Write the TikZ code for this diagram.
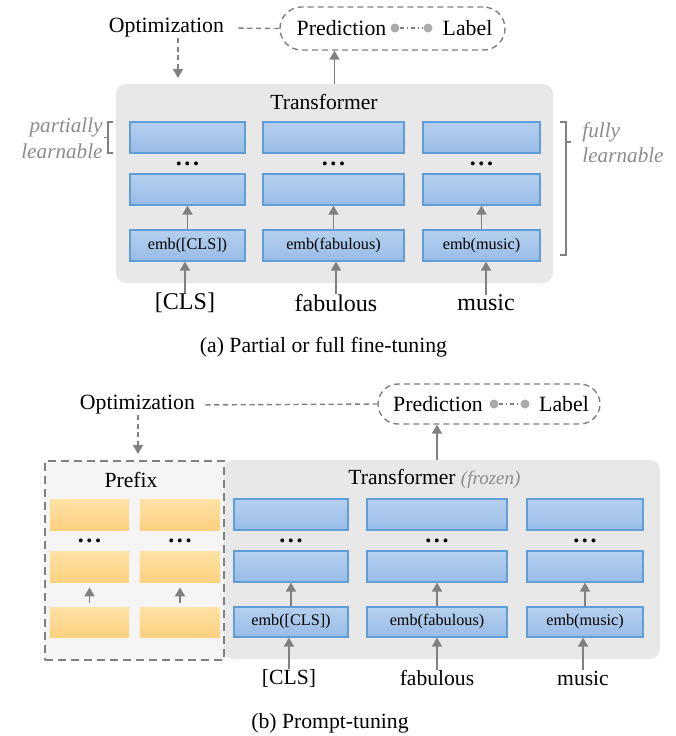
\documentclass[tikz,border=0pt]{standalone}
\usepackage{fontspec}
\setmainfont{Liberation Serif}
\usetikzlibrary{arrows.meta,calc}
\definecolor{gline}{RGB}{128,128,128}
\definecolor{bluefillT}{RGB}{182,208,238}
\definecolor{bluefillB}{RGB}{152,188,231}
\definecolor{blueborder}{RGB}{96,158,215}
\definecolor{orangeT}{RGB}{254,226,165}
\definecolor{orangeB}{RGB}{253,209,128}
\definecolor{tbox}{RGB}{232,232,232}
\definecolor{pbox}{RGB}{245,245,245}
\definecolor{ital}{RGB}{140,140,140}
\definecolor{gdotc}{RGB}{170,170,170}
\newcommand{\mydots}{.\hspace{1.3pt}.\hspace{1.3pt}.}
\tikzset{
 fs/.style={font=\fontsize{#1}{#1}\selectfont},
 blk/.style={draw=blueborder, line width=0.6pt, top color=bluefillT, bottom color=bluefillB, inner sep=0pt, font=\fontsize{8.1}{9}\selectfont},
 org/.style={top color=orangeT, bottom color=orangeB, inner sep=0pt},
 arr/.style={draw=gline, line width=0.8pt, -{Triangle[length=4.5pt,width=5pt]}},
 darr/.style={draw=gline, line width=0.7pt, dash pattern=on 2.5pt off 1.8pt, -{Triangle[length=4.5pt,width=5pt]}},
 dln/.style={draw=gline, line width=0.7pt, dash pattern=on 2.6pt off 1.8pt},
 ovalbox/.style={draw=gline, line width=0.7pt, dash pattern=on 3pt off 2pt, inner sep=0pt},
 gdot/.style={circle, fill=gdotc, inner sep=0pt, minimum size=4.5pt},
 lbl/.style={text=ital, font=\fontsize{10.6}{12}\selectfont\itshape, inner sep=0pt},
 dotsn/.style={font=\fontsize{12}{12}\selectfont\bfseries, inner sep=0pt},
 brk/.style={draw=gline, line width=0.6pt},
}
\begin{document}
\begin{tikzpicture}[x=0.5pt,y=-0.5pt]
\useasboundingbox (0,0) rectangle (676,736);

% ---------------- (a) ----------------
\node[fill=tbox, rounded corners=5pt, minimum width=218.5pt, minimum height=99.5pt, inner sep=0pt] (tf1) at (334.5,183.5) {};
\node[fs=10.8, inner sep=0pt] (tf1l) at (324,102) {Transformer};

\node[ovalbox, rounded corners=10.75pt, minimum width=112.5pt, minimum height=21.5pt] (ov1) at (392.5,28.5) {};
\node[fs=10.9, inner sep=0pt] (pr1) at (341.5,28) {Prediction};
\node[fs=10.9, inner sep=0pt] (lb1) at (467.5,28) {Label};
\node[gdot] (g11) at (395,28) {};
\node[gdot] (g12) at (428,28) {};
\draw[draw=gline, line width=0.6pt, dash pattern=on 2pt off 1.5pt on 0.6pt off 1.5pt] (g11) -- (g12);

\node[fs=10.9, inner sep=0pt] (opt1) at (166.5,28) {Optimization};
\draw[dln, shorten <=7pt] (opt1.east) -- (ov1.west);
\coordinate (o1end) at (178,78);
\draw[darr] (o1end |- opt1.south) -- (o1end);
\draw[arr] (tf1.north) -- (tf1.north |- ov1.south);

% blue boxes
\foreach \c/\x/\w in {1/187.5/57.5, 2/333.5/70.5, 3/481.5/58.5}{
  \node[blk, minimum width=\w pt, minimum height=15.5pt] (a\c1) at (\x,137.5) {};
  \node[blk, minimum width=\w pt, minimum height=15.5pt] (a\c2) at (\x,189.5) {};
  \node[dotsn] (ad\c) at (\x,163.5) {\mydots};
}
\node[blk, minimum width=57.5pt, minimum height=15.5pt] (a13) at (187.5,245.5) {emb([CLS])};
\node[blk, minimum width=70.5pt, minimum height=15.5pt] (a23) at (333.5,245.5) {emb(fabulous)};
\node[blk, minimum width=58.5pt, minimum height=15.5pt] (a33) at (481.5,245.5) {emb(music)};
\foreach \c in {1,2,3}{ \draw[arr] (a\c3.north) -- (a\c2.south); }

\node[fs=12, inner sep=0pt] (w11) at (185,303) {[CLS]};
\node[fs=12, inner sep=0pt] (w12) at (336,303) {fabulous};
\node[fs=12, inner sep=0pt] (w13) at (486,303) {music};
\draw[arr] (w11.north) -- (w11.north |- a13.south);
\draw[arr] (w12.north) -- (w12.north |- a23.south);
\draw[arr] (w13.north) -- (w13.north |- a33.south);

% brackets
\draw[brk] (113,122) -- (108,122) -- (108,153) -- (113,153) (108,137.5) -- (104,137.5);
\node[lbl, anchor=east] (pl1) at (103,127) {partially};
\node[lbl, anchor=east] (pl2) at (103,151) {learnable};
\draw[brk] (560,122) -- (566,122) -- (566,255) -- (560,255) (566,142) -- (571,142);
\node[lbl, anchor=west] (fl1) at (582,132) {fully};
\node[lbl, anchor=west] (fl2) at (582,155) {learnable};

\node[fs=10.85, inner sep=0pt] (capa) at (323.5,347) {(a) Partial or full fine-tuning};

% ---------------- (b) ----------------
\node[fill=tbox, rounded corners=5pt, minimum width=218.5pt, minimum height=99.5pt, inner sep=0pt] (tf2) at (441.5,559.5) {};
\node[fill=pbox, draw=gline, line width=1.2pt, dash pattern=on 4pt off 2.5pt, minimum width=89.5pt, minimum height=99.5pt, inner sep=0pt] (pfx) at (134.5,560.5) {};
\node[fs=10.8, inner sep=0pt] (pfxl) at (131,480) {Prefix};
\node[fs=10.8, inner sep=0pt, anchor=west] (tf2l) at (348,479) {Transformer \textcolor{ital}{\itshape\fontsize{9.5}{10}\selectfont (frozen)}};

\node[ovalbox, rounded corners=10pt, minimum width=111pt, minimum height=20pt] (ov2) at (489,404) {};
\node[fs=10.9, inner sep=0pt] (pr2) at (438,404) {Prediction};
\node[fs=10.9, inner sep=0pt] (lb2) at (564,404) {Label};
\node[gdot] (g21) at (494,404) {};
\node[gdot] (g22) at (525,404) {};
\draw[draw=gline, line width=0.6pt, dash pattern=on 2pt off 1.5pt on 0.6pt off 1.5pt] (g21) -- (g22);

\node[fs=10.9, inner sep=0pt] (opt2) at (137.5,405) {Optimization};
\draw[dln, shorten <=5pt] (opt2.east) -- (ov2.west);
\coordinate (o2end) at (138,454);
\draw[darr] (o2end |- opt2.south) -- (o2end);
\draw[arr] ([xshift=-2.25pt]tf2.north) -- ([xshift=-2.25pt]tf2.north |- ov2.south);

% prefix boxes
\foreach \c/\x/\w in {1/89.5/39.5, 2/180/40}{
  \node[org, minimum width=\w pt, minimum height=15.5pt] (p\c1) at (\x,514.5) {};
  \node[org, minimum width=\w pt, minimum height=15.5pt] (p\c2) at (\x,566.5) {};
  \node[org, minimum width=\w pt, minimum height=15pt] (p\c3) at (\x,622) {};
  \node[dotsn] (pd\c) at (\x,541) {\mydots};
  \draw[arr, shorten <=2pt, shorten >=2.5pt] (p\c3.north) -- (p\c2.south);
}

% blue boxes
\foreach \c/\x/\w in {1/291/57, 2/437/70, 3/585/58}{
  \node[blk, minimum width=\w pt, minimum height=15.5pt] (b\c1) at (\x,514.5) {};
  \node[blk, minimum width=\w pt, minimum height=15.5pt] (b\c2) at (\x,566.5) {};
  \node[dotsn] (bd\c) at (\x,541) {\mydots};
}
\node[blk, minimum width=57pt, minimum height=15pt] (b13) at (291,622) {emb([CLS])};
\node[blk, minimum width=70pt, minimum height=15pt] (b23) at (437,622) {emb(fabulous)};
\node[blk, minimum width=58pt, minimum height=15pt] (b33) at (585,622) {emb(music)};
\foreach \c in {1,2,3}{ \draw[arr] (b\c3.north) -- (b\c2.south); }

\node[fs=10.8, inner sep=0pt] (w21) at (289,678) {[CLS]};
\node[fs=10.8, inner sep=0pt] (w22) at (437,678) {fabulous};
\node[fs=10.8, inner sep=0pt] (w23) at (583,678) {music};
\draw[arr] (w21.north) -- (w21.north |- b13.south);
\draw[arr] (w22.north) -- (w22.north |- b23.south);
\draw[arr] (w23.north) -- (w23.north |- b33.south);

\node[fs=10.85, inner sep=0pt] (capb) at (330,723) {(b) Prompt-tuning};
\end{tikzpicture}
\end{document}
